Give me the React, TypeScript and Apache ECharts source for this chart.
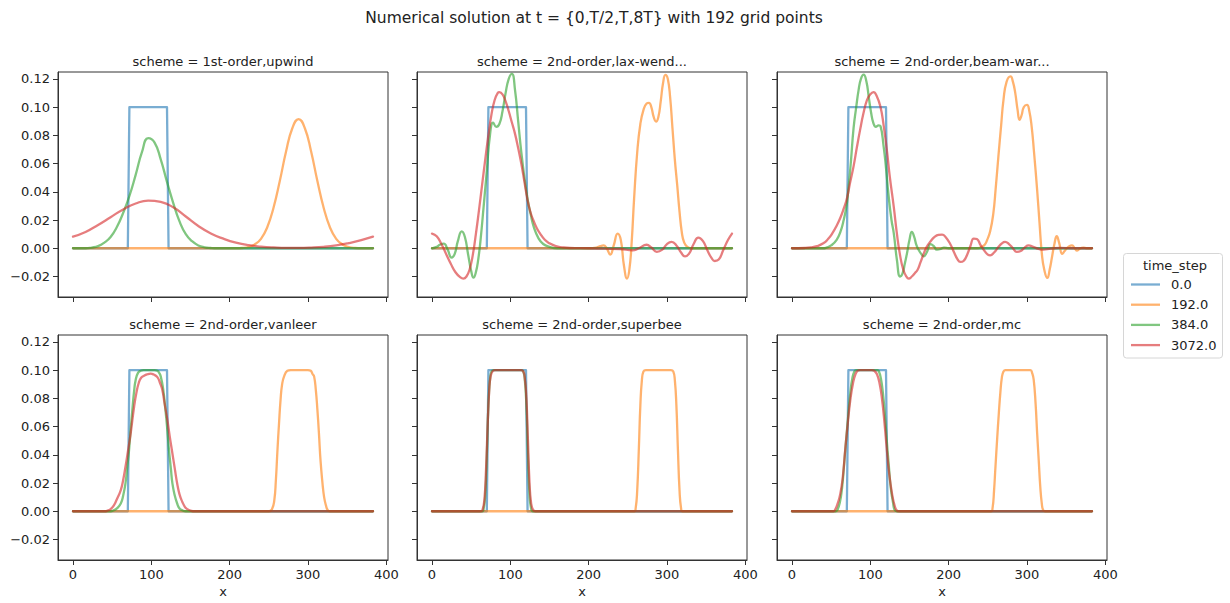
import React, { useEffect, useRef } from 'react';
import * as echarts from 'echarts';

type Pt = [number, number];

// ---- labels -------------------------------------------------------------
const mainTitle = 'Numerical solution at t = {0,T/2,T,8T} with 192 grid points';
const legendTitle = 'time_step';
const timeSteps = ['0.0', '192.0', '384.0', '3072.0'];
const lineColors = ['#1f77b4', '#ff7f0e', '#2ca02c', '#d62728'];
const schemes = [
  '1st-order,upwind',
  '2nd-order,lax-wend...',
  '2nd-order,beam-war...',
  '2nd-order,vanleer',
  '2nd-order,superbee',
  '2nd-order,mc',
];
const xTicks = [0, 100, 200, 300, 400];
const yTicks = [-0.02, 0, 0.02, 0.04, 0.06, 0.08, 0.1, 0.12];

// ---- solution profiles: [x, value] ------------------------------------------
// initial square pulse (time_step 0), identical for every scheme
const initialPulse: Pt[] = [[0, 0], [70, 0], [72, 0.1], [120, 0.1], [122, 0], [383, 0]];

// 1st-order upwind
const upwind192: Pt[] = [
  [0, 0], [208, 0], [216, 0.0002], [224, 0.0009], [232, 0.0027], [240, 0.0067], [248, 0.0149],
  [256, 0.0287], [264, 0.0476], [272, 0.0685], [280, 0.085], [288, 0.0915], [296, 0.085],
  [304, 0.0685], [312, 0.0476], [320, 0.0287], [328, 0.0149], [336, 0.0067], [344, 0.0027],
  [352, 0.0009], [360, 0.0002], [368, 0], [383, 0],
];
const upwind384: Pt[] = [
  [0, 0], [16, 0], [24, 0.0005], [32, 0.0015], [40, 0.004], [48, 0.008], [56, 0.015], [64, 0.025],
  [72, 0.037], [80, 0.052], [88, 0.068], [96, 0.078], [104, 0.075], [112, 0.063], [120, 0.047],
  [128, 0.032], [136, 0.019], [144, 0.01], [152, 0.005], [160, 0.002], [168, 0.0007],
  [176, 0.0002], [184, 0], [383, 0],
];
const upwind3072: Pt[] = [
  [0, 0.0082], [16, 0.0115], [32, 0.0165], [48, 0.022], [64, 0.0275], [80, 0.0317], [96, 0.0338],
  [112, 0.0328], [128, 0.029], [144, 0.0225], [160, 0.0158], [176, 0.0105], [192, 0.0068],
  [208, 0.004], [224, 0.0022], [240, 0.0012], [256, 0.0006], [272, 0.0003], [288, 0.0003],
  [304, 0.0005], [320, 0.001], [336, 0.002], [352, 0.0036], [368, 0.0057], [383, 0.0082],
];

// 2nd-order Lax-Wendroff
const laxWend192: Pt[] = [
  [0, 0], [200, 0], [210, 0.0005], [215, 0.0015], [219, 0.002], [223, 0], [227.5, -0.0045],
  [232, 0.002], [237, 0.0104], [241, 0.006], [245, -0.012], [249, -0.0215], [252, -0.015],
  [255, 0.005], [258, 0.035], [262, 0.068], [266, 0.088], [270, 0.098], [274, 0.1025],
  [277, 0.103], [280, 0.1], [283, 0.093], [286, 0.0897], [289, 0.093], [292, 0.104],
  [295, 0.117], [298, 0.1228], [301, 0.12], [304, 0.107], [307, 0.085], [310, 0.063],
  [313, 0.045], [316, 0.026], [319, 0.011], [322, 0.004], [326, 0.001], [332, 0], [383, 0],
];
const laxWend384: Pt[] = [
  [0, 0], [6, 0.001], [10, 0.0025], [15, 0.0033], [20, -0.001], [25, -0.0066], [29, -0.004],
  [33, 0.005], [38, 0.012], [42, 0.008], [46, -0.004], [50, -0.016], [53, -0.0208], [56, -0.017],
  [59, -0.008], [62, 0.006], [66, 0.03], [70, 0.055], [74, 0.08], [78, 0.089], [82, 0.086],
  [86, 0.088], [90, 0.097], [94, 0.11], [98, 0.12], [102, 0.1235], [106, 0.112], [110, 0.09],
  [114, 0.068], [118, 0.05], [122, 0.035], [126, 0.024], [130, 0.015], [136, 0.007],
  [142, 0.003], [150, 0.001], [160, 0], [383, 0],
];
const laxWend3072: Pt[] = [
  [0, 0.0104], [6, 0.0085], [12, 0.003], [18, -0.004], [24, -0.011], [30, -0.017], [36, -0.0205],
  [40, -0.0215], [44, -0.02], [48, -0.015], [52, -0.005], [56, 0.01], [60, 0.027], [64, 0.045],
  [68, 0.063], [72, 0.08], [76, 0.095], [80, 0.105], [84, 0.11], [86, 0.1105], [90, 0.109],
  [94, 0.104], [98, 0.097], [102, 0.089], [106, 0.081], [110, 0.071], [114, 0.06], [118, 0.047],
  [122, 0.034], [126, 0.025], [130, 0.019], [134, 0.014], [138, 0.0104], [144, 0.006],
  [150, 0.0035], [158, 0.0015], [166, 0.0007], [176, 0.0002], [200, 0], [220, -0.0003],
  [240, -0.0005], [256, -0.0015], [264, 0], [274, 0.0025], [280, 0.0005], [287, -0.0025],
  [294, -0.001], [300, 0.003], [306, 0.0045], [312, 0.002], [318, -0.003], [323, -0.0057],
  [328, -0.004], [334, 0.003], [340, 0.0076], [346, 0.005], [352, -0.002], [357, -0.007],
  [361, -0.009], [366, -0.008], [372, -0.001], [378, 0.006], [383, 0.0104],
];

// 2nd-order Beam-Warming
const beamWarm192: Pt[] = [
  [0, 0], [236, 0], [242, 0.001], [246, 0.0025], [249, 0.0057], [253, 0.012], [257, 0.0246],
  [260, 0.042], [263.5, 0.065], [267, 0.087], [270, 0.105], [274, 0.118], [279, 0.1217],
  [282, 0.118], [285, 0.11], [288, 0.098], [290.5, 0.091], [293, 0.094], [296, 0.1],
  [300, 0.1015], [303, 0.097], [306, 0.086], [309, 0.068], [313, 0.041], [316, 0.018],
  [319, -0.004], [322, -0.015], [326, -0.021], [329, -0.015], [332, -0.006], [335, 0.003],
  [338, 0.0085], [341, 0.004], [345, -0.004], [348, -0.002], [351, 0], [354, 0.0015],
  [357.5, 0.002], [361, 0], [364, -0.0017], [368, 0], [372, 0.0005], [376, 0], [383, 0],
];
const beamWarm384: Pt[] = [
  [0, 0], [40, 0], [44, 0.0005], [50, 0.002], [57, 0.006], [62, 0.012], [66, 0.02], [69, 0.028],
  [71, 0.036], [75, 0.06], [78.6, 0.085], [82, 0.1], [85, 0.112], [88, 0.12], [91.5, 0.123],
  [95, 0.118], [98, 0.107], [101, 0.096], [104, 0.0885], [107, 0.086], [110.7, 0.087],
  [113, 0.0865], [117, 0.072], [120, 0.057], [123, 0.039], [127, 0.02], [130, 0.0104],
  [134, -0.0085], [138, -0.02], [141, -0.018], [144, -0.011], [147, -0.003], [150, 0.006],
  [153, 0.0116], [156, 0.008], [159, 0.002], [162, -0.0014], [165, -0.004], [168, -0.0057],
  [172, -0.003], [177, 0.003], [181, 0.0015], [185, -0.001], [190, -0.0005], [194, 0.0005],
  [200, 0], [383, 0],
];
const beamWarm3072: Pt[] = [
  [0, 0], [16, 0.0002], [24, 0.0006], [32, 0.0015], [40, 0.0035], [46, 0.0065], [52, 0.011],
  [57, 0.016], [62, 0.022], [66, 0.028], [70, 0.035], [74, 0.046], [78.6, 0.058], [83, 0.072],
  [87, 0.084], [91, 0.095], [95.8, 0.105], [100, 0.109], [104, 0.1105], [108, 0.108],
  [113, 0.1], [117, 0.087], [121, 0.07], [125, 0.05], [130, 0.029], [134, 0.01], [138, -0.005],
  [142, -0.015], [146, -0.02], [149, -0.0215], [153, -0.02], [157, -0.0175], [160, -0.0156],
  [164, -0.01], [168, -0.004], [172, 0.001], [177, 0.005], [182, 0.008], [187, 0.0095],
  [191.6, 0.0097], [196, 0.008], [202, 0.003], [207, -0.003], [211, -0.0075], [215, -0.0097],
  [219, -0.009], [224, -0.004], [228, 0.002], [232, 0.0069], [236, 0.0065], [241, 0.002],
  [246, -0.002], [250, -0.0045], [253, -0.005], [258, -0.003], [263, 0.0005], [268, 0.0035],
  [272, 0.0045], [277, 0.003], [282, 0], [287, -0.0026], [292, -0.002], [297, 0.0005],
  [302, 0.002], [308, 0.001], [315, -0.0005], [321, -0.001], [330, -0.0003], [343, 0.0003],
  [360, 0], [383, 0],
];

// 2nd-order van Leer limiter
const vanleer192: Pt[] = [
  [0, 0], [250, 0], [254, 0.0015], [257, 0.0078], [259, 0.022], [261, 0.043], [263, 0.062],
  [265, 0.079], [267, 0.09], [269.5, 0.0955], [273.7, 0.0995], [278, 0.1], [300, 0.1],
  [303.5, 0.0995], [306, 0.097], [307.8, 0.0955], [310, 0.086], [312, 0.072], [314, 0.055],
  [316, 0.036], [318.5, 0.02], [320.6, 0.01], [323, 0.004], [325, 0.001], [328, 0], [383, 0],
];
const vanleer384: Pt[] = [
  [0, 0], [48, 0], [52, 0.0007], [56, 0.002], [61, 0.0055], [64, 0.011], [67, 0.0197],
  [69, 0.03], [71.5, 0.043], [73.5, 0.057], [75.8, 0.072], [78, 0.085], [80, 0.093], [83, 0.098],
  [86.4, 0.0995], [90, 0.1], [104, 0.1], [107.7, 0.0995], [110, 0.098], [112, 0.0955],
  [115, 0.087], [118, 0.072], [120.5, 0.057], [122.6, 0.043], [125, 0.03], [126.9, 0.0197],
  [130, 0.011], [133, 0.0055], [136, 0.002], [139.6, 0.0007], [144, 0], [383, 0],
];
const vanleer3072: Pt[] = [
  [0, 0], [40, 0], [44, 0.0004], [48, 0.0015], [52, 0.004], [56, 0.0085], [61, 0.015],
  [64, 0.022], [67, 0.0315], [70, 0.042], [73.6, 0.055], [78, 0.074], [81, 0.084], [84, 0.091],
  [87, 0.0945], [90.7, 0.096], [95, 0.097], [99, 0.0974], [103, 0.0968], [107.7, 0.095],
  [111, 0.091], [114, 0.086], [117, 0.076], [120.5, 0.0647], [123.5, 0.053], [126.9, 0.041],
  [130, 0.03], [133, 0.0197], [136, 0.012], [139.6, 0.0066], [143, 0.003], [146, 0.0015],
  [150, 0.0005], [155, 0], [383, 0],
];

// 2nd-order superbee limiter
const superbee192: Pt[] = [
  [0, 0], [258, 0], [260, 0.002], [262, 0.015], [264, 0.043], [266, 0.075], [268, 0.093],
  [270, 0.099], [273, 0.1], [305, 0.1], [308, 0.099], [310, 0.093], [312, 0.075], [314, 0.043],
  [316, 0.015], [318, 0.002], [320, 0], [383, 0],
];
const superbee384: Pt[] = [
  [0, 0], [64, 0], [66, 0.002], [68, 0.012], [70, 0.04], [72, 0.075], [74, 0.093], [76, 0.099],
  [79, 0.1], [114, 0.1], [116.5, 0.099], [118.5, 0.093], [120.5, 0.075], [122.5, 0.04],
  [124.5, 0.012], [126.5, 0.002], [129, 0], [383, 0],
];
const superbee3072: Pt[] = [
  [0, 0], [62, 0], [64.5, 0.001], [67, 0.009], [69, 0.03], [71, 0.06], [73, 0.085], [75, 0.096],
  [78, 0.0995], [81, 0.1], [113, 0.1], [116, 0.0995], [118.5, 0.094], [120.5, 0.08],
  [122.5, 0.05], [124.5, 0.02], [126.5, 0.006], [129, 0.001], [132, 0], [383, 0],
];

// 2nd-order MC limiter
const mc192: Pt[] = [
  [0, 0], [254, 0], [256, 0.002], [258, 0.015], [259.7, 0.031], [262, 0.052], [264, 0.069],
  [266, 0.084], [268, 0.095], [270, 0.099], [272.4, 0.1], [304.4, 0.1], [306.5, 0.098],
  [308.6, 0.093], [311, 0.076], [313, 0.055], [315, 0.036], [317, 0.017], [319, 0.005],
  [320.6, 0.001], [323, 0], [383, 0],
];
const mc384: Pt[] = [
  [0, 0], [56, 0], [58, 0.001], [61, 0.006], [64, 0.017], [66.5, 0.033], [69, 0.05], [72, 0.069],
  [74.5, 0.084], [77, 0.094], [79.6, 0.099], [82, 0.1], [109, 0.1], [111, 0.099], [113.5, 0.094],
  [116, 0.084], [118.5, 0.069], [121, 0.05], [123.5, 0.033], [126, 0.017], [129, 0.006],
  [131, 0.001], [134, 0], [383, 0],
];
const mc3072: Pt[] = [
  [0, 0], [53, 0], [55, 0.001], [58, 0.005], [61.7, 0.0125], [65, 0.025], [68, 0.044],
  [71, 0.061], [74.5, 0.079], [78, 0.091], [81, 0.097], [84, 0.0995], [87, 0.1], [102, 0.1],
  [105, 0.0995], [108.5, 0.097], [112, 0.09], [115, 0.079], [118, 0.063], [121, 0.044],
  [124, 0.027], [127.7, 0.0125], [131, 0.004], [134, 0.0005], [137, 0], [383, 0],
];

// one entry per panel, series ordered as timeSteps
const panelProfiles: Pt[][][] = [
  [initialPulse, upwind192, upwind384, upwind3072],
  [initialPulse, laxWend192, laxWend384, laxWend3072],
  [initialPulse, beamWarm192, beamWarm384, beamWarm3072],
  [initialPulse, vanleer192, vanleer384, vanleer3072],
  [initialPulse, superbee192, superbee384, superbee3072],
  [initialPulse, mc192, mc384, mc3072],
];

// ---- layout / style ---------------------------------------------------------------
const FONT = 'DejaVu Sans';
const TEXT = '#222222';
const SPINE = '#333333';
const colLeft = [58, 417, 777];
const rowTop = [72, 335];
const panelW = 330;
const panelH = 225;
const X_MIN = -19.15;
const X_MAX = 402.15;
const Y_MIN = -0.0345;
const Y_MAX = 0.1248;
const LINE_W = 2.3;

const fmtY = (v: number) => (v < 0 ? '\u2212' : '') + Math.abs(v).toFixed(2);

function buildOption() {
  const grids: any[] = [];
  const xAxes: any[] = [];
  const yAxes: any[] = [];
  const titles: any[] = [
    {
      text: mainTitle,
      left: 594,
      top: 8,
      textAlign: 'center',
      padding: 0,
      textStyle: { fontFamily: FONT, fontSize: 15.5, fontWeight: 'normal', color: TEXT, lineHeight: 20 },
    },
  ];
  const series: any[] = [];

  schemes.forEach((scheme, i) => {
    const row = Math.floor(i / 3);
    const col = i % 3;
    const left = colLeft[col];
    const top = rowTop[row];
    grids.push({
      left,
      top,
      width: panelW,
      height: panelH,
      show: true,
      borderColor: SPINE,
      borderWidth: 1,
      backgroundColor: 'transparent',
      containLabel: false,
      outerBoundsMode: 'none',
    });
    titles.push({
      text: 'scheme = ' + scheme,
      left: left + panelW / 2,
      top: top - 19,
      textAlign: 'center',
      padding: 0,
      textStyle: { fontFamily: FONT, fontSize: 13, fontWeight: 'normal', color: TEXT, lineHeight: 16 },
    });
    const bottomRow = row === 1;
    xAxes.push({
      type: 'value',
      gridIndex: i,
      min: X_MIN,
      max: X_MAX,
      name: bottomRow ? 'x' : '',
      nameLocation: 'middle',
      nameGap: 25,
      nameTextStyle: { fontFamily: FONT, fontSize: 13, color: TEXT },
      splitLine: { show: false },
      axisLine: { show: true, onZero: false, lineStyle: { color: SPINE, width: 1 } },
      axisTick: { show: true, inside: false, length: 5, customValues: xTicks, lineStyle: { color: SPINE, width: 1 } },
      axisLabel: {
        show: bottomRow,
        customValues: xTicks,
        margin: 8,
        fontFamily: FONT,
        fontSize: 13,
        color: TEXT,
        formatter: (v: number) => String(Math.round(v)),
      },
    });
    yAxes.push({
      type: 'value',
      gridIndex: i,
      min: Y_MIN,
      max: Y_MAX,
      splitLine: { show: false },
      axisLine: { show: true, onZero: false, lineStyle: { color: SPINE, width: 1 } },
      axisTick: { show: true, inside: false, length: 5, customValues: yTicks, lineStyle: { color: SPINE, width: 1 } },
      axisLabel: {
        show: col === 0,
        customValues: yTicks,
        margin: 8,
        fontFamily: FONT,
        fontSize: 13,
        color: TEXT,
        formatter: fmtY,
      },
    });
    panelProfiles[i].forEach((profile, k) => {
      series.push({
        type: 'line',
        name: timeSteps[k],
        xAxisIndex: i,
        yAxisIndex: i,
        data: profile,
        showSymbol: false,
        symbol: 'none',
        smooth: k === 0 ? false : 0.5,
        clip: true,
        lineStyle: { color: lineColors[k], width: LINE_W, opacity: 0.6, join: 'round', cap: 'round' },
        itemStyle: { color: lineColors[k] },
        emphasis: { disabled: true },
        silent: true,
      });
    });
  });

  // legend box with the time_step entries
  const legendX = 1123.5;
  const legendY = 253.5;
  const legendEls: any[] = [
    {
      type: 'rect',
      shape: { x: legendX, y: legendY, width: 99, height: 104.5, r: 3 },
      style: { fill: 'rgba(255,255,255,0.8)', stroke: '#d6d6d6', lineWidth: 1 },
    },
    {
      type: 'text',
      x: 1175,
      y: 265,
      style: {
        text: legendTitle,
        font: `13px "${FONT}"`,
        fill: TEXT,
        align: 'center',
        verticalAlign: 'middle',
        textAlign: 'center',
        textVerticalAlign: 'middle',
      },
    },
  ];
  timeSteps.forEach((label, k) => {
    const y = 284.5 + k * 20.2;
    legendEls.push({
      type: 'line',
      shape: { x1: 1131, y1: y, x2: 1160, y2: y },
      style: { stroke: lineColors[k], lineWidth: LINE_W, opacity: 0.6 },
    });
    legendEls.push({
      type: 'text',
      x: 1171,
      y,
      style: {
        text: label,
        font: `13px "${FONT}"`,
        fill: TEXT,
        align: 'left',
        verticalAlign: 'middle',
        textAlign: 'left',
        textVerticalAlign: 'middle',
      },
    });
  });

  return {
    animation: false,
    backgroundColor: '#ffffff',
    textStyle: { fontFamily: FONT },
    title: titles,
    grid: grids,
    xAxis: xAxes,
    yAxis: yAxes,
    series,
    graphic: { elements: legendEls },
  };
}

export default function App() {
  const ref = useRef<HTMLDivElement>(null);
  useEffect(() => {
    if (!ref.current) return;
    const chart = echarts.init(ref.current, null, { renderer: 'svg' });
    chart.setOption(buildOption() as any);
    return () => chart.dispose();
  }, []);
  return (
    <div
      ref={ref}
      style={{ position: 'fixed', left: 0, top: 0, width: 1230, height: 603, background: '#fff' }}
    />
  );
}
